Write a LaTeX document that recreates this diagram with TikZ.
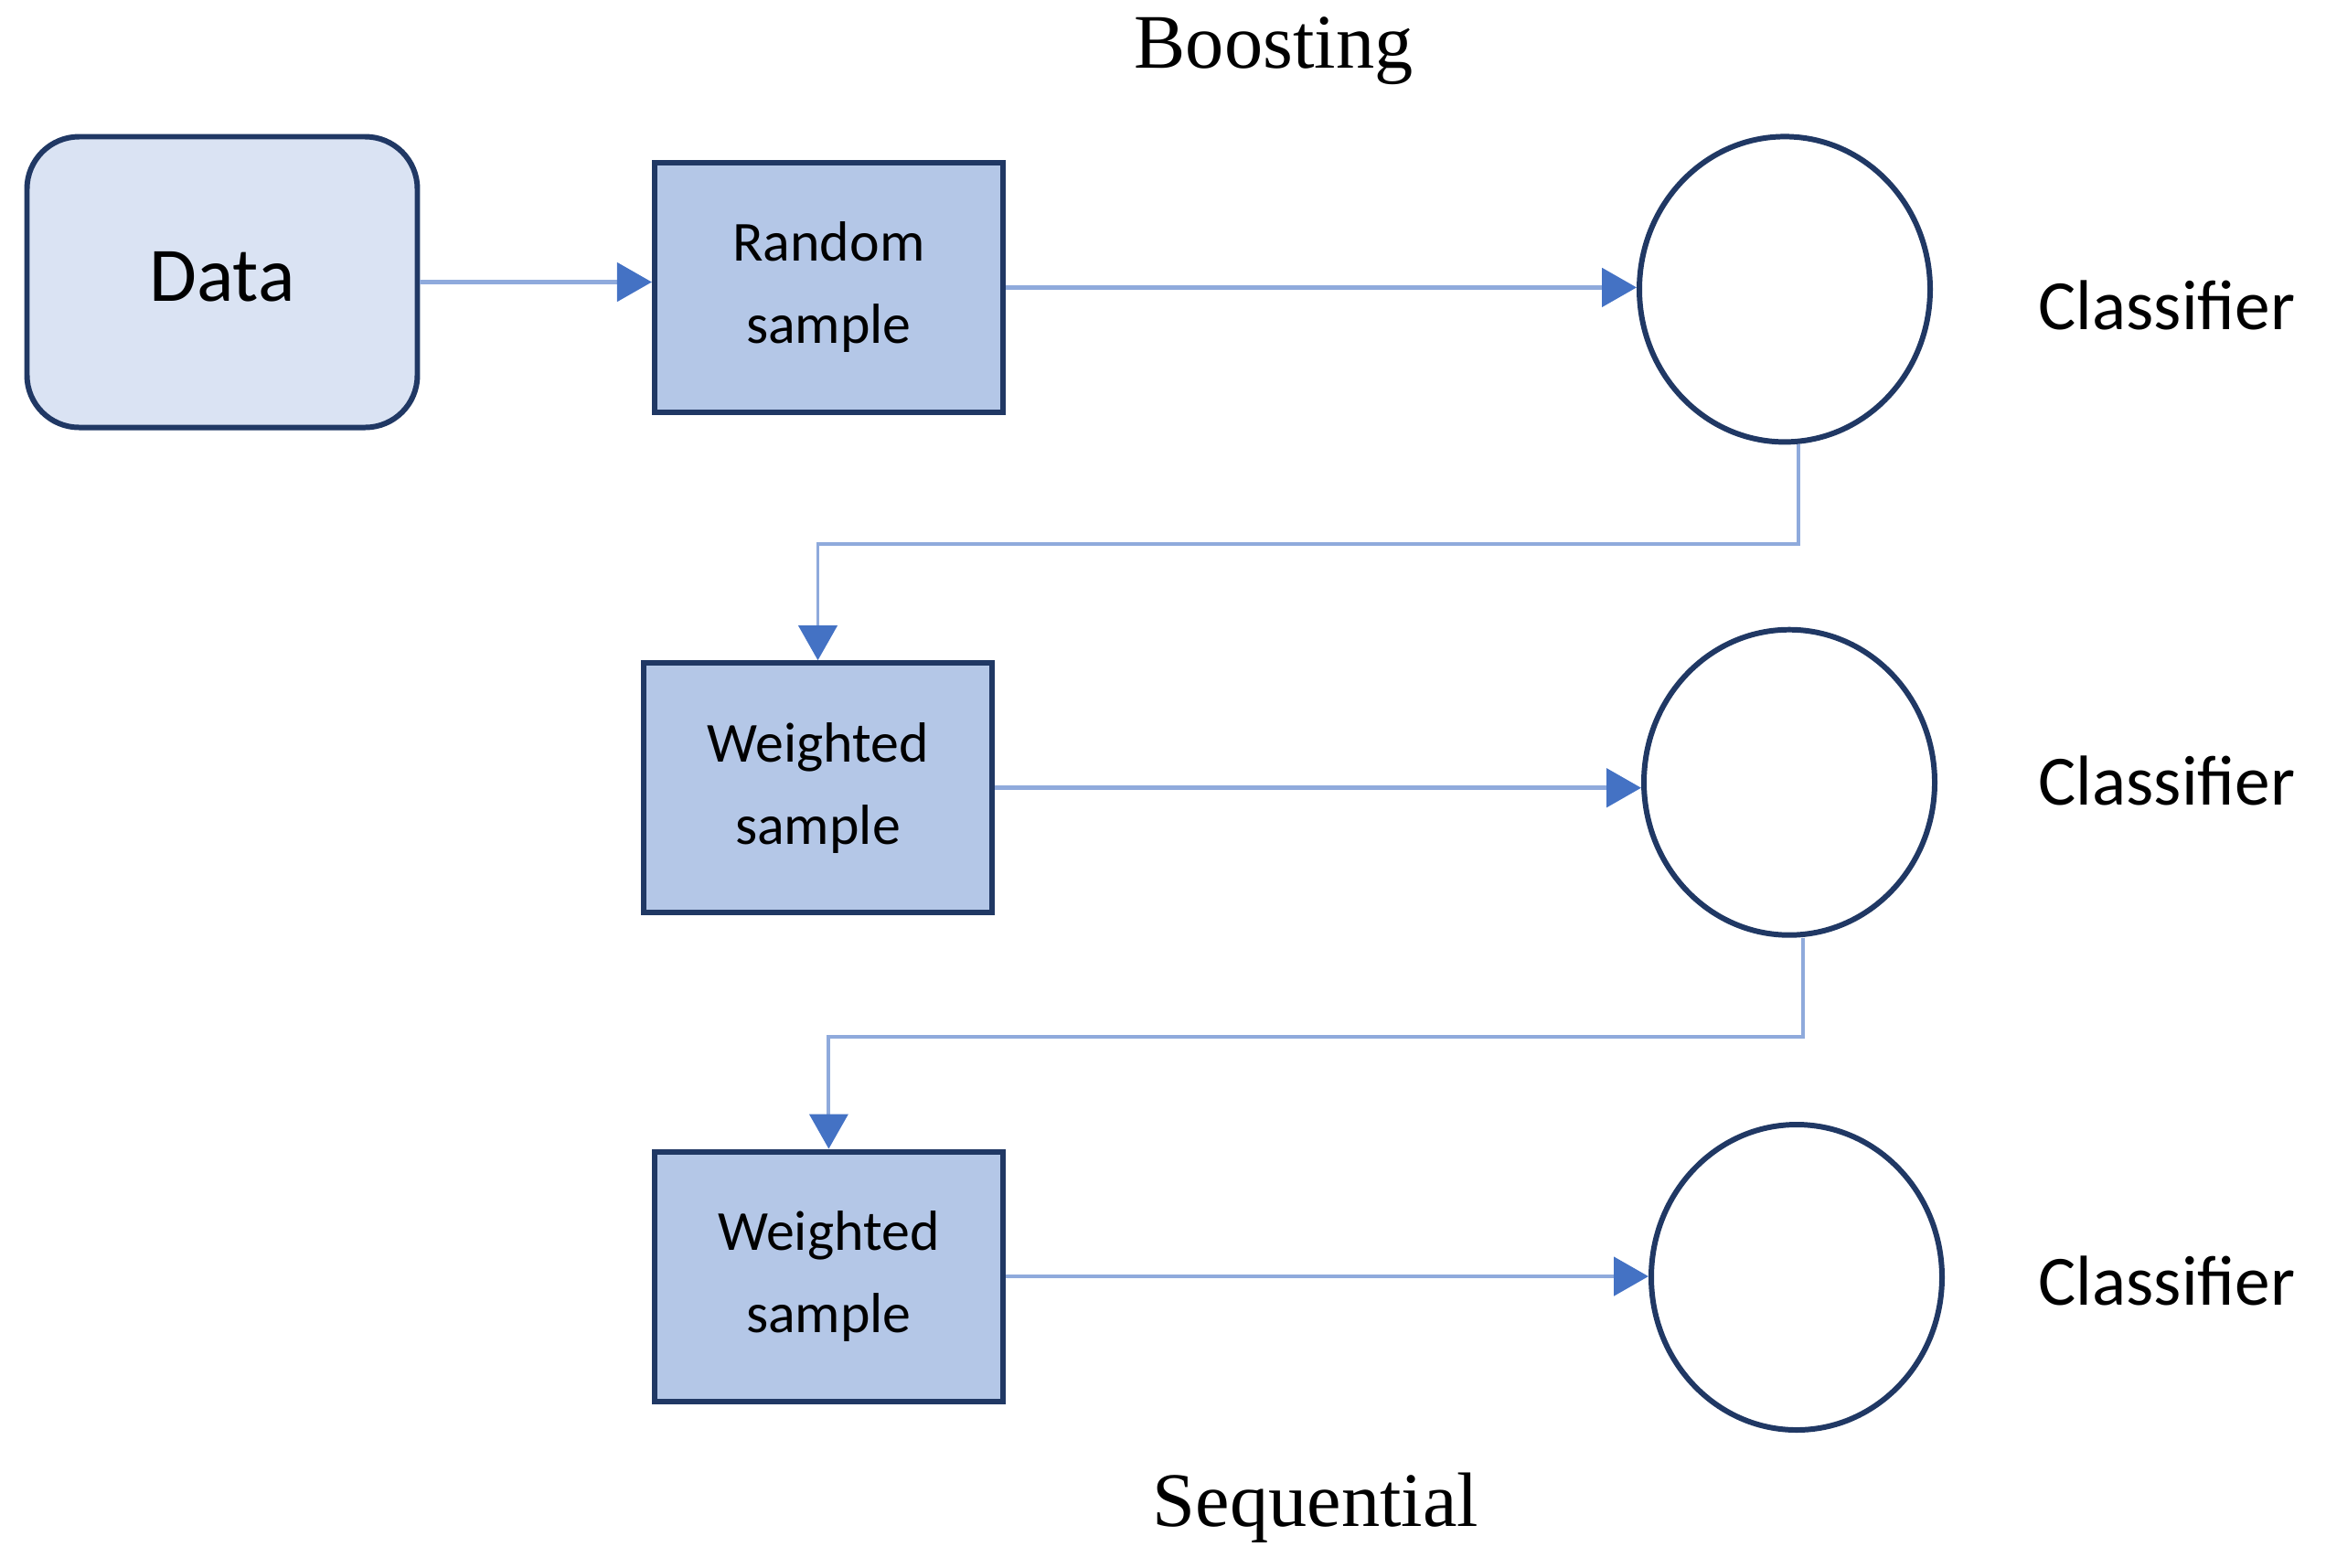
\documentclass[tikz,border=0pt]{standalone}
\usepackage{fontspec}
\setmainfont{Carlito}
\newfontfamily\captionserif{Liberation Serif}
\usetikzlibrary{shapes,arrows}
\usetikzlibrary{arrows.meta}
\definecolor{datafill}{HTML}{DAE3F3}
\definecolor{samplefill}{HTML}{B4C7E7}
\definecolor{navy}{HTML}{203864}
\definecolor{linkblue}{HTML}{8FAADC}
\definecolor{tipblue}{HTML}{4472C4}
\tikzstyle{line} = [draw=linkblue, line width=1.4pt, -{Triangle[length=3.8mm, width=4.2mm, color=tipblue]}]
\tikzstyle{feedback} = [line, line width=1.1pt]
\tikzstyle{sample} = [rectangle, draw=navy, line width=1.7pt, fill=samplefill, minimum width=3.81cm, minimum height=2.73cm, align=center, font=\fontsize{17.6}{25.6}\selectfont]
\tikzstyle{learner} = [ellipse, draw=navy, line width=1.7pt, minimum width=3.18cm, minimum height=3.34cm]
\tikzstyle{tag} = [anchor=base, font=\fontsize{22}{26}\selectfont]
\tikzstyle{caption} = [anchor=base, font=\captionserif\fontsize{24}{28}\selectfont]

\begin{document}
\begin{tikzpicture}
    \useasboundingbox (0, 0) rectangle (25.44, -17.14);

    \node[caption] (boost) at (13.93, -0.74) {Boosting};
    \node[rectangle, rounded corners=0.57cm, draw=navy, line width=1.7pt, fill=datafill, minimum width=4.27cm, minimum height=3.18cm, font=\fontsize{24}{28}\selectfont] (data) at (2.43, -3.085) {\raisebox{0.13cm}{Data}};

    \node[sample] (rs) at (9.064, -3.144) {Random\\sample};
    \node[sample] (ws1) at (8.945, -8.617) {Weighted\\sample};
    \node[sample] (ws2) at (9.064, -13.96) {Weighted\\sample};

    \node[learner] (c1) at (19.52, -3.164) {};
    \node[learner] (c2) at (19.57, -8.557) {};
    \node[learner] (c3) at (19.65, -13.97) {};

    \node[tag] (t1) at (23.70, -3.60) {Classifier};
    \node[tag] (t2) at (23.70, -8.80) {Classifier};
    \node[tag] (t3) at (23.70, -14.27) {Classifier};
    \node[caption] (seq) at (14.39, -16.69) {Sequential};

    \path [line] (data.east) -- (data.east -| rs.west);
    \path [line] (rs.east) -- (rs.east -| c1.west);
    \path [line] (ws1.east) -- (ws1.east -| c2.west);
    \path [line] (ws2.east) -- (ws2.east -| c3.west);

    \path [feedback] ([xshift=0.15cm]c1.south) -- ++(0, -1.085) -| (ws1.north);
    \path [feedback] ([xshift=0.15cm]c2.south) -- ++(0, -1.085) -| (ws2.north);

\end{tikzpicture}
\end{document}
